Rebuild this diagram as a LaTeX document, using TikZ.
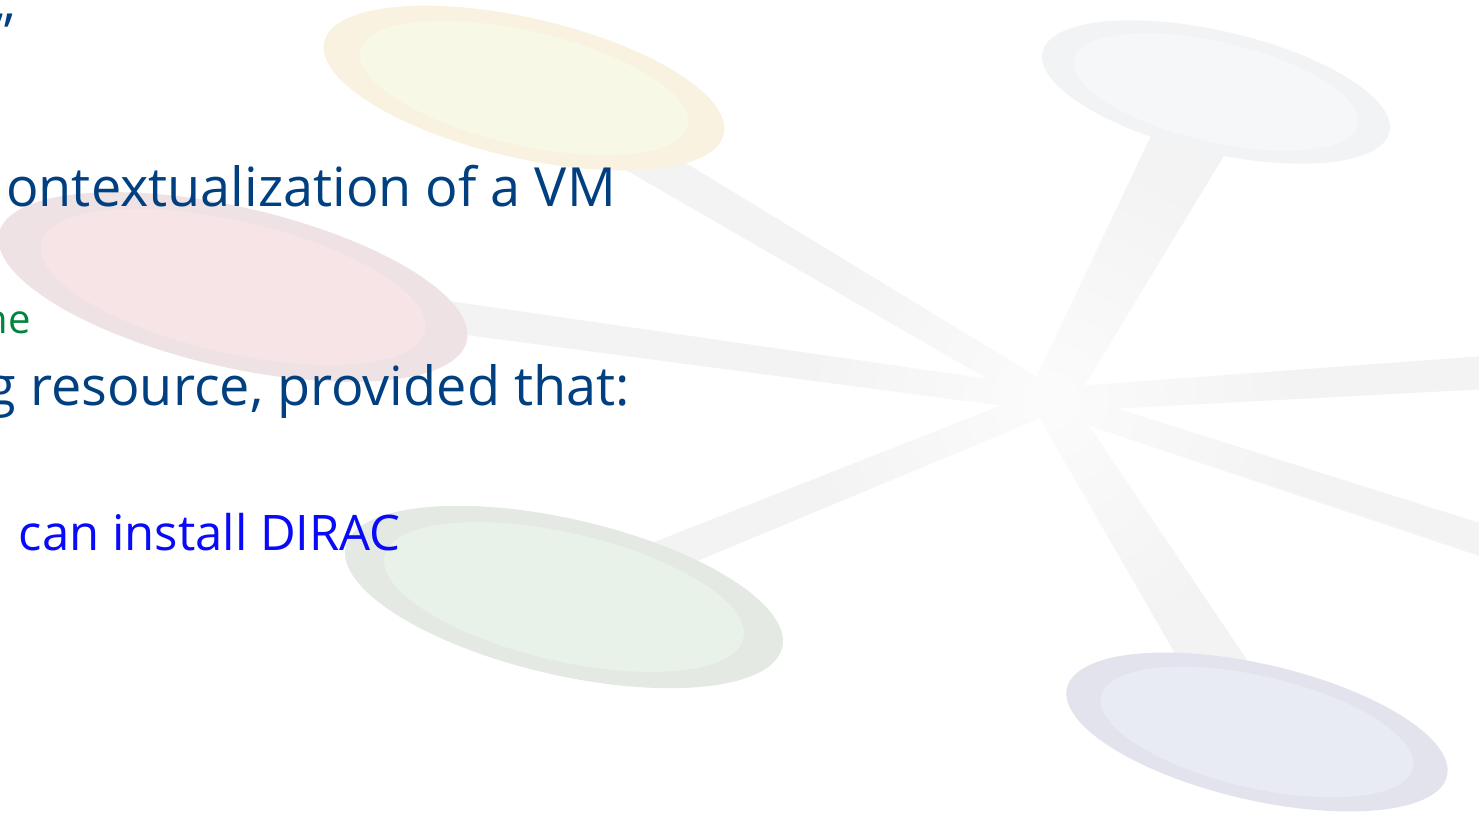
\documentclass[tikz,border=0pt]{standalone}
\usepackage{fontspec}
\setmainfont{Open Sans}
\usetikzlibrary{calc,fadings}

\definecolor{slideblue}{RGB}{0,64,128}
\definecolor{notegreen}{RGB}{0,133,62}
\definecolor{linkblue}{RGB}{10,10,250}
\definecolor{spokegray}{HTML}{F3F3F3}
\definecolor{yellowrim}{HTML}{FAF2E1}
\definecolor{yellowfill}{HTML}{F8F8E6}
\definecolor{greyrim}{HTML}{F2F3F5}
\definecolor{greyfill}{HTML}{F6F7F9}
\definecolor{pinkrim}{HTML}{EEE2E4}
\definecolor{pinkfill}{HTML}{F7E4E6}
\definecolor{greenrim}{HTML}{E4E9E4}
\definecolor{greenfill}{HTML}{E8F2E8}
\definecolor{lilacrim}{HTML}{E3E3EE}
\definecolor{lilacfill}{HTML}{E8EAF4}

\tikzfading[name=hubglow, inner color=transparent!0, outer color=transparent!100]

\tikzset{
spoke/.style={fill=spokegray},
bigline/.style={anchor=base east, inner sep=0pt, text=slideblue, font=\fontsize{54}{60}\selectfont},
greenline/.style={anchor=base east, inner sep=0pt, text=notegreen, font=\fontsize{40}{46}\selectfont},
blueline/.style={anchor=base east, inner sep=0pt, text=linkblue, font=\fontsize{49}{56}\selectfont},
}

% tapered bar from the hub (#1) out to a disc (#2)
\newcommand{\spokebar}[4]{%
\fill[spoke] ($(#1)!#3!90:(#2)$) -- ($(#2)!#4!-90:(#1)$) -- ($(#2)!#4!90:(#1)$) -- ($(#1)!#3!-90:(#2)$) -- cycle;}

\begin{document}
\begin{tikzpicture}[x=1pt,y=-1pt]

\fill[white] (0,0) rectangle (1479,812);
\useasboundingbox (0,0) rectangle (1479,812);

\coordinate (hub) at (1050,400);
\coordinate (yellowdisc) at (524,88);
\coordinate (greydisc) at (1216,92);
\coordinate (pinkdisc) at (233,287);
\coordinate (greendisc) at (564,597);
\coordinate (lilacdisc) at (1257,732);
\coordinate (offright) at (1620,364);
\coordinate (offdown) at (1620,585);

% spokes first, the discs sit on their ends
\spokebar{hub}{yellowdisc}{13pt}{20pt}
\spokebar{hub}{greydisc}{22pt}{40pt}
\spokebar{hub}{pinkdisc}{12pt}{17pt}
\spokebar{hub}{greendisc}{13pt}{18pt}
\spokebar{hub}{lilacdisc}{18pt}{32pt}
\spokebar{hub}{offright}{12pt}{18pt}
\spokebar{hub}{offdown}{12pt}{17pt}

% spokes fade out towards the hub
\fill[white, fill opacity=0.75, path fading=hubglow] (hub) circle (260pt);

\fill[yellowrim, rotate around={-13:(yellowdisc)}] (yellowdisc) ellipse (205pt and 70pt);
\fill[yellowfill, rotate around={-13:(yellowdisc)}] (yellowdisc) ellipse (168pt and 57pt);

\fill[greyrim, rotate around={-13:(greydisc)}] (greydisc) ellipse (178pt and 61pt);
\fill[greyfill, rotate around={-13:(greydisc)}] (greydisc) ellipse (146pt and 50pt);

\fill[pinkrim, rotate around={-13:(pinkdisc)}] (pinkdisc) ellipse (240pt and 80pt);
\fill[pinkfill, rotate around={-13:(pinkdisc)}] (pinkdisc) ellipse (197pt and 66pt);

\fill[greenrim, rotate around={-13:(greendisc)}] (greendisc) ellipse (224pt and 78pt);
\fill[greenfill, rotate around={-13:(greendisc)}] (greendisc) ellipse (184pt and 64pt);

\fill[lilacrim, rotate around={-13:(lilacdisc)}] (lilacdisc) ellipse (195pt and 68pt);
\fill[lilacfill, rotate around={-13:(lilacdisc)}] (lilacdisc) ellipse (160pt and 56pt);

% slide text, cut at the left edge
\node[bigline] (quoteend) at (14,52) {”};
\node[bigline] (vmline) at (616,206) {ontextualization of a VM};
\node[greenline] (neline) at (31,333) {ne};
\node[bigline] (provline) at (630,405) {g resource, provided that:};
\node[blueline] (diracline) at (401,550) {can install DIRAC};

\end{tikzpicture}
\end{document}
